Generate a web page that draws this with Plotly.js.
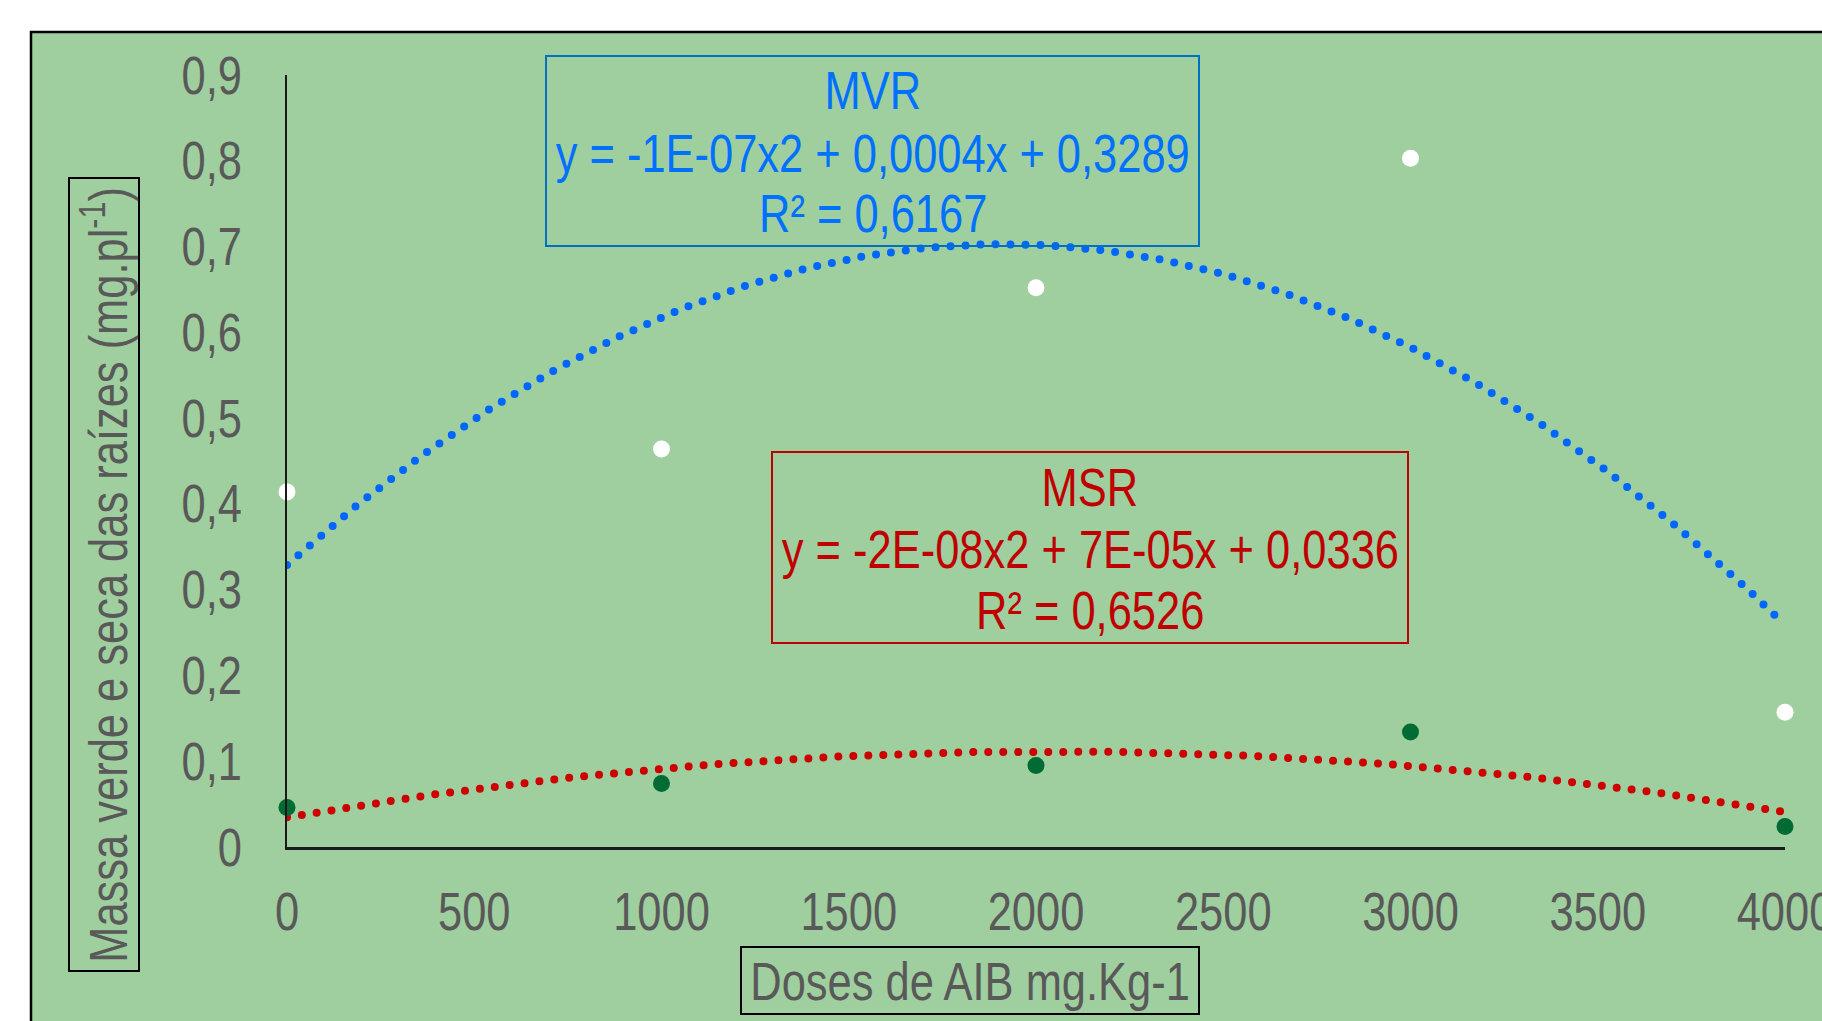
<!DOCTYPE html>
<html>
<head>
<meta charset="utf-8">
<script src="https://cdn.plot.ly/plotly-3.0.1.min.js"></script>
<style>
  html, body { margin: 0; padding: 0; background: #ffffff; }
  #chart { width: 1822px; height: 1021px; }
  .scatterlayer .js-line { stroke-linecap: round !important; }
</style>
</head>
<body>
<div id="chart"></div>
<script>
// ---- data ----
const doses = [0, 1000, 2000, 3000, 4000];
const mvr = [0.414, 0.464, 0.652, 0.803, 0.157];   // massa verde das raízes
const msr = [0.046, 0.074, 0.095, 0.134, 0.024];   // massa seca das raízes
const yTicks = [0, 0.1, 0.2, 0.3, 0.4, 0.5, 0.6, 0.7, 0.8, 0.9];
const xTicks = [0, 500, 1000, 1500, 2000, 2500, 3000, 3500, 4000];
const mvrLabel = ["MVR", "y = -1E-07x2 + 0,0004x + 0,3289", "R² = 0,6167"];
const msrLabel = ["MSR", "y = -2E-08x2 + 7E-05x + 0,0336", "R² = 0,6526"];
const xTitle = "Doses de AIB mg.Kg-1";
const yTitle = "Massa verde e seca das raízes (mg.pl<sup>-1</sup>)";

// ---- quadratic least-squares trendline (as the spreadsheet does) ----
function polyFit2(xs, ys) {
  let S = [0,0,0,0,0], T = [0,0,0];
  for (let i = 0; i < xs.length; i++) {
    const x = xs[i] / 1000, y = ys[i];
    for (let k = 0; k < 5; k++) S[k] += Math.pow(x, k);
    for (let k = 0; k < 3; k++) T[k] += y * Math.pow(x, k);
  }
  const A = [[S[0],S[1],S[2],T[0]],[S[1],S[2],S[3],T[1]],[S[2],S[3],S[4],T[2]]];
  for (let c = 0; c < 3; c++) {
    for (let r = c + 1; r < 3; r++) {
      const f = A[r][c] / A[c][c];
      for (let k = c; k < 4; k++) A[r][k] -= f * A[c][k];
    }
  }
  const coef = [0,0,0];
  for (let r = 2; r >= 0; r--) {
    let s = A[r][3];
    for (let k = r + 1; k < 3; k++) s -= A[r][k] * coef[k];
    coef[r] = s / A[r][r];
  }
  return x => coef[0] + coef[1] * (x/1000) + coef[2] * (x/1000) * (x/1000);
}
function trend(xs, ys) {
  const f = polyFit2(xs, ys);
  const lo = Math.min(...xs), hi = Math.max(...xs);
  const tx = [], ty = [];
  for (let i = 0; i <= 400; i++) { const x = lo + (hi - lo) * i / 400; tx.push(x); ty.push(f(x)); }
  return {tx, ty};
}
const tMvr = trend(doses, mvr);
const tMsr = trend(doses, msr);

// ---- layout geometry (pixels) ----
const W = 1822, H = 1021;
const L = 287, R = 1785, T = 75, B = 847;
const px = v => (v - L) / (R - L);
const py = v => (B - v) / (B - T);
const FONT = "'Liberation Sans', Arial, sans-serif";
const FS = 53;
const NARROW = 0.82;   // horizontal squeeze to mimic a narrow face

const traces = [
  { x: tMvr.tx, y: tMvr.ty, mode: 'lines', line: { color: '#0066FF', width: 8, dash: '0px,15px' }, hoverinfo: 'skip', cliponaxis: false },
  { x: tMsr.tx, y: tMsr.ty, mode: 'lines', line: { color: '#CC0000', width: 8, dash: '0px,15px' }, hoverinfo: 'skip', cliponaxis: false },
  { x: doses, y: mvr, mode: 'markers', name: 'MVR', marker: { color: '#FFFFFF', size: 17 }, cliponaxis: false },
  { x: doses, y: msr, mode: 'markers', name: 'MSR', marker: { color: '#006B33', size: 17 }, cliponaxis: false }
];

function rect(x0, y0, x1, y1, color, fill) {
  return { type: 'rect', xref: 'paper', yref: 'paper', x0: px(x0), x1: px(x1), y0: py(y1), y1: py(y0),
           line: { color: color, width: 2 }, fillcolor: fill || 'rgba(0,0,0,0)', layer: fill ? 'below' : 'above' };
}
const shapes = [
  rect(31, 32, 1900, 1100, '#000000', '#9FCF9F'),
  rect(546, 56, 1199, 246, '#0070C0'),
  rect(772, 452, 1408, 643, '#C00000'),
  rect(741, 947, 1199, 1014, '#000000'),
  rect(69, 178, 139, 971, '#000000')
];
shapes[0].line.width = 2.5;

function label(text, x, y, color, angle) {
  return { text: text, xref: 'paper', yref: 'paper', x: px(x), y: py(y), xanchor: 'center', yanchor: 'middle',
           showarrow: false, textangle: angle || 0, font: { family: FONT, size: FS, color: color } };
}
const mvrY = [91, 153, 214], msrY = [487, 549, 610];
const annotations = [];
mvrLabel.forEach((t, i) => annotations.push(label(t, 872.5, mvrY[i], '#0070FF')));
msrLabel.forEach((t, i) => annotations.push(label(t, 1090, msrY[i], '#C00000')));
annotations.push(label(xTitle, 970, 981, '#595959'));
annotations.push(label(yTitle, 104, 575, '#595959', -90));

const layout = {
  width: W, height: H,
  margin: { l: L, r: W - R, t: T, b: H - B, pad: 0 },
  paper_bgcolor: '#FFFFFF',
  plot_bgcolor: 'rgba(0,0,0,0)',
  showlegend: false,
  separators: ',.',
  font: { family: FONT, size: FS, color: '#595959' },
  xaxis: {
    range: [0, 4000], tickvals: xTicks, ticktext: xTicks.map(String),
    showgrid: false, zeroline: false, showline: true, linecolor: '#1a1a1a', linewidth: 2.5,
    ticks: '', ticklabelstandoff: 17, ticklabeloverflow: 'allow', fixedrange: true,
    tickfont: { family: FONT, size: FS, color: '#595959' }
  },
  yaxis: {
    range: [0, 0.9], tickvals: yTicks, ticktext: yTicks.map(v => v === 0 ? '0' : v.toFixed(1).replace('.', ',')),
    showgrid: false, zeroline: false, showline: true, linecolor: '#1a1a1a', linewidth: 2.5,
    ticks: '', ticklabelstandoff: 32, fixedrange: true,
    tickfont: { family: FONT, size: FS, color: '#595959' }
  },
  shapes: shapes,
  annotations: annotations
};

function squeeze(gd) {
  const els = gd.querySelectorAll('.xtick text, .ytick text, .annotation-text');
  els.forEach(el => {
    const bb = el.getBBox();
    const anchor = el.getAttribute('text-anchor') || 'start';
    let ax = bb.x;
    if (anchor === 'middle') ax = bb.x + bb.width / 2;
    else if (anchor === 'end') ax = bb.x + bb.width;
    const prev = el.getAttribute('transform') || '';
    el.setAttribute('transform', prev + ` translate(${ax},0) scale(${NARROW},1) translate(${-ax},0)`);
  });
}

Plotly.newPlot('chart', traces, layout, { displayModeBar: false, staticPlot: true }).then(squeeze);
</script>
</body>
</html>
